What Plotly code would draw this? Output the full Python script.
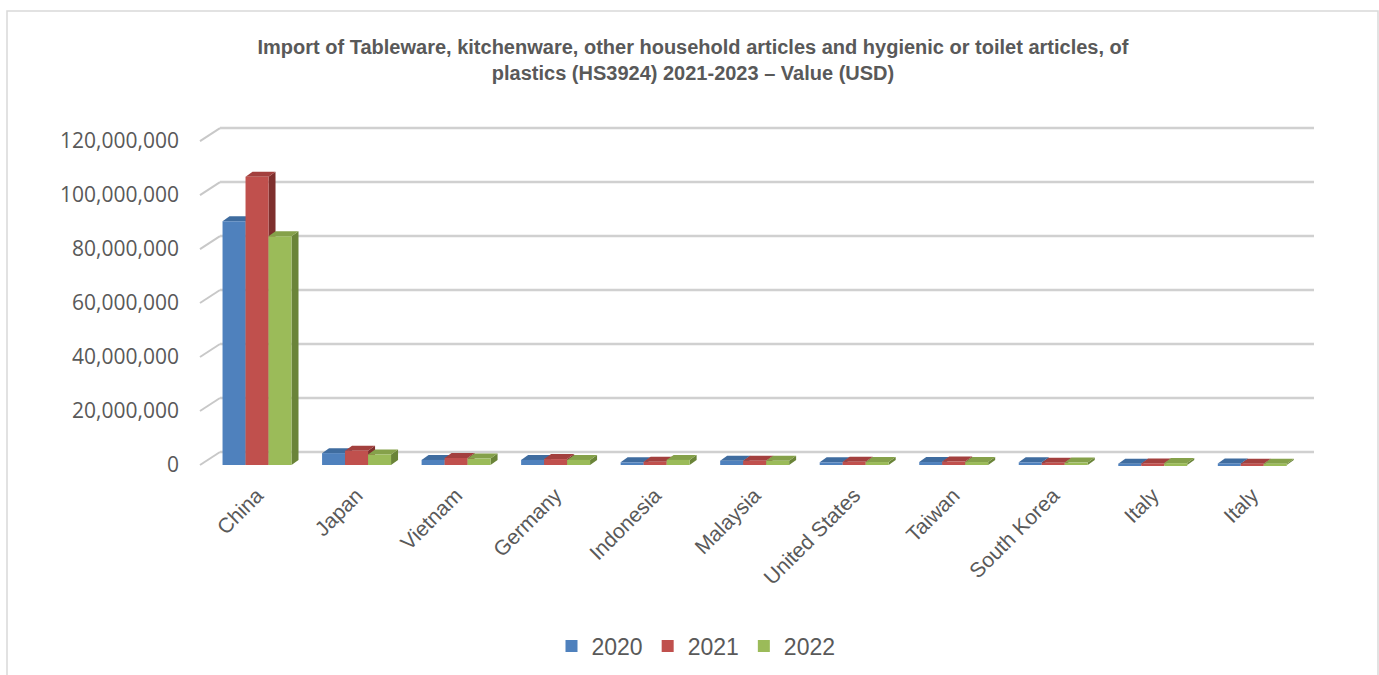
import plotly.graph_objects as go

# ---------------- data ----------------
countries = ["China", "Japan", "Vietnam", "Germany", "Indonesia", "Malaysia",
             "United States", "Taiwan", "South Korea", "Italy", "Italy"]
years = ["2020", "2021", "2022"]
v2020 = [90.3e6, 4.4e6, 1.9e6, 1.9e6, 1.0e6, 1.6e6, 1.0e6, 1.1e6, 1.0e6, 0.5e6, 0.6e6]
v2021 = [106.8e6, 5.3e6, 2.6e6, 2.2e6, 1.2e6, 1.6e6, 1.2e6, 1.3e6, 0.8e6, 0.6e6, 0.5e6]
v2022 = [84.7e6, 3.9e6, 2.4e6, 1.9e6, 1.9e6, 1.6e6, 1.1e6, 1.1e6, 0.9e6, 0.7e6, 0.5e6]
series = [v2020, v2021, v2022]
y_ticks = [0, 20e6, 40e6, 60e6, 80e6, 100e6, 120e6]

# ---------------- style ----------------
front_cols = ["#4F81BD", "#C0504D", "#9BBB59"]
top_cols = ["#3F6C9F", "#A3403E", "#85A14A"]
side_cols = ["#36587F", "#7E2F2D", "#6A8438"]
text_col = "#595959"

W, H = 1379, 675
ML, MR, MT, MB = 200, 65, 120, 205
plot_w = W - ML - MR
plot_h = H - MT - MB

x_range = [-0.573, 10.62]
y_range = [-1.85e6, 127.8e6]
xu_per_px = (x_range[1] - x_range[0]) / plot_w
yu_per_px = (y_range[1] - y_range[0]) / plot_h

bargap = 0.307
n_ser = len(series)
bw = (1 - bargap) / n_ser

# 3D depth (pixels -> data units)
dx_bar = 7 * xu_per_px
dy_bar = 5 * yu_per_px
dy_grid = 13 * yu_per_px
grid_dx_paper = 20 / plot_w

xs = list(range(len(countries)))

fig = go.Figure()
for i, (name, vals) in enumerate(zip(years, series)):
    fig.add_trace(go.Bar(
        x=xs, y=vals, name=name, marker=dict(color=front_cols[i], line=dict(width=0)),
    ))

shapes = []
# back wall gridlines with diagonal stubs
for t in y_ticks:
    shapes.append(dict(type="line", xref="paper", yref="y", x0=0, x1=grid_dx_paper,
                       y0=t, y1=t + dy_grid, line=dict(color="#C8C8C8", width=2), layer="below"))
    shapes.append(dict(type="line", xref="paper", yref="y", x0=grid_dx_paper, x1=1,
                       y0=t + dy_grid, y1=t + dy_grid, line=dict(color="#D0D0D0", width=2.5),
                       layer="below"))

# bar depth faces
for j in xs:
    for i, vals in enumerate(series):
        v = vals[j]
        c = j + (i - (n_ser - 1) / 2) * bw
        left, right = c - bw / 2, c + bw / 2
        side = (f"M {right},0 L {right},{v} L {right + dx_bar},{v + dy_bar} "
                f"L {right + dx_bar},{dy_bar} Z")
        top = (f"M {left},{v} L {right},{v} L {right + dx_bar},{v + dy_bar} "
               f"L {left + dx_bar},{v + dy_bar} Z")
        shapes.append(dict(type="path", path=side, xref="x", yref="y",
                           fillcolor=side_cols[i], line=dict(width=0), layer="below"))
        shapes.append(dict(type="path", path=top, xref="x", yref="y",
                           fillcolor=top_cols[i], line=dict(width=0), layer="below"))

# outer chart border
shapes.append(dict(type="rect", xref="paper", yref="paper",
                   x0=(7 - ML) / plot_w, x1=(1378 - ML) / plot_w,
                   y0=-(MB + 20) / plot_h, y1=1 + (MT - 11) / plot_h,
                   line=dict(color="#D9D9D9", width=1.5), fillcolor="rgba(0,0,0,0)",
                   layer="below"))

fig.update_layout(
    width=W, height=H,
    margin=dict(l=ML, r=MR, t=MT, b=MB, autoexpand=False),
    paper_bgcolor="white", plot_bgcolor="rgba(0,0,0,0)",
    barmode="group", bargap=bargap, bargroupgap=0,
    title=dict(
        text="Import of Tableware, kitchenware, other household articles and hygienic or toilet articles, of<br>plastics (HS3924) 2021-2023 – Value (USD)",
        font=dict(family="Liberation Sans, Arial", size=20, color=text_col, weight="bold"),
        x=693 / W, xanchor="center", xref="container",
        y=1 - 54 / H, yanchor="top", yref="container",
    ),
    xaxis=dict(
        range=x_range, tickmode="array", tickvals=xs, ticktext=countries,
        tickangle=-45, showgrid=False, zeroline=False, showline=False, ticks="",
        ticklabelstandoff=8, automargin=False,
        tickfont=dict(family="Liberation Sans, Arial", size=21, color=text_col),
    ),
    yaxis=dict(
        range=y_range, tickmode="array", tickvals=y_ticks,
        ticktext=[f"{int(t):,}" for t in y_ticks],
        showgrid=False, zeroline=False, showline=False, ticks="",
        ticklabelstandoff=20, automargin=False,
        tickfont=dict(family="Open Sans, Noto Sans", size=21, color=text_col),
    ),
    legend=dict(
        orientation="h", x=(696 - ML) / plot_w, xanchor="center",
        y=-(646 - (MT + plot_h)) / plot_h, yanchor="middle",
        font=dict(family="Liberation Sans, Arial", size=23, color=text_col),
        itemwidth=30, tracegroupgap=0,
    ),
    shapes=shapes,
    showlegend=True,
)

fig.write_html("out.html", config={"displayModeBar": False},
               post_script="document.body.style.margin='0';")
